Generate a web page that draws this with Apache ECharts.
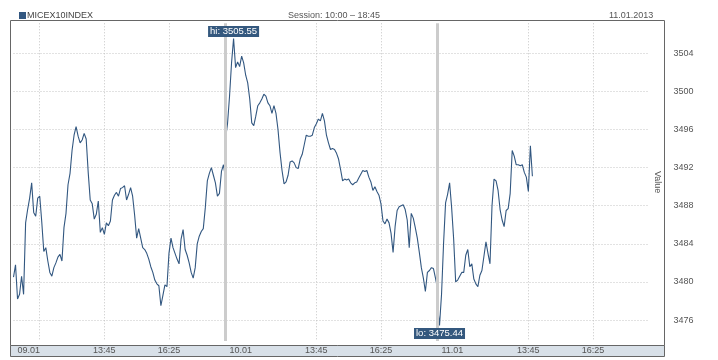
<!DOCTYPE html>
<html><head><meta charset="utf-8">
<script src="https://cdn.jsdelivr.net/npm/echarts/dist/echarts.min.js"></script>
<style>html,body{margin:0;padding:0;background:#fff}#c{width:718px;height:360px}</style>
</head><body><div id="c"></div>
<script>
const seriesName = 'MICEX10INDEX';
const sessionText = 'Session: 10:00 \u2013 18:45';
const dateText = '11.01.2013';
const sessionOpen = '10:00';
const sessionClose = '18:45';
const stepMinutes = 5;
const dayLabels = ['09.01', '10.01', '11.01'];
const timeTickLabels = ['13:45', '16:25'];
const firstDayExtraGrid = ['11:05'];
const yTickValues = [3476, 3480, 3484, 3488, 3492, 3496, 3500, 3504];
const yMin = 3473.8, yMax = 3507.15;

const day1 = [
  3480.5, 3481.8, 3478.2, 3478.7, 3480.6, 3478.7, 3486.2, 3487.6, 3488.8, 3490.4,
  3487.3, 3486.9, 3488.8, 3489.0, 3486.3, 3483.2, 3483.6, 3482.2, 3481.0, 3480.6,
  3481.5, 3482.0, 3482.6, 3482.9, 3482.2, 3485.7, 3487.2, 3490.2, 3491.4, 3493.8,
  3495.4, 3496.3, 3495.3, 3494.6, 3494.9, 3495.6, 3495.0, 3491.5, 3488.6, 3488.2,
  3486.6, 3487.1, 3488.5, 3485.2, 3485.7, 3485.0, 3486.2, 3485.9, 3486.4, 3488.6,
  3489.1, 3489.4, 3489.0, 3489.8, 3489.9, 3490.1, 3488.6, 3489.2, 3489.9, 3489.0,
  3487.0, 3484.6, 3485.6, 3484.6, 3483.6, 3483.4, 3483.0, 3482.4, 3481.6, 3481.0,
  3480.2, 3479.8, 3479.6, 3477.5, 3478.6, 3479.7, 3479.5, 3483.0, 3484.6, 3483.6,
  3483.0, 3482.4, 3481.9, 3484.5, 3485.5, 3483.4, 3482.8, 3482.0, 3481.0, 3480.4,
  3481.5, 3484.0, 3484.8, 3485.3, 3485.6, 3487.8, 3490.6, 3491.4, 3492.0, 3491.2,
  3490.4, 3489.0, 3489.3, 3491.6, 3492.3, 3490.9
];
const day2 = [
  3495.0, 3496.6, 3499.5, 3503.0, 3505.55, 3502.5, 3503.1, 3502.6, 3503.7, 3503.0,
  3501.7, 3500.9, 3499.2, 3496.7, 3496.4, 3497.4, 3498.5, 3498.8, 3499.2, 3499.7,
  3499.5, 3498.8, 3498.5, 3497.7, 3498.5, 3497.7, 3496.0, 3493.6, 3491.7, 3490.3,
  3490.5, 3491.2, 3492.6, 3492.7, 3492.5, 3492.0, 3491.9, 3492.9, 3493.4, 3494.4,
  3495.4, 3495.3, 3495.3, 3495.4, 3496.2, 3496.6, 3497.1, 3496.9, 3497.7, 3496.9,
  3495.4, 3494.6, 3493.9, 3494.0, 3493.9, 3493.5, 3492.9, 3491.8, 3490.6, 3490.8,
  3490.7, 3490.8, 3490.4, 3490.2, 3490.4, 3490.5, 3490.9, 3491.3, 3491.7, 3491.6,
  3491.7, 3491.0, 3490.5, 3489.6, 3490.0, 3489.5, 3489.1, 3488.2, 3486.4, 3486.1,
  3486.6, 3486.2, 3485.1, 3483.1, 3485.8, 3487.5, 3487.9, 3488.0, 3488.1, 3487.6,
  3486.5, 3483.6, 3487.2, 3486.7, 3485.7, 3484.6, 3483.1, 3481.5, 3480.4, 3479.0,
  3481.0, 3481.2, 3481.5, 3481.4, 3480.4, 3479.3
];
const day3 = [
  3477.5, 3475.44, 3478.7, 3484.0, 3488.3, 3489.2, 3490.4, 3487.8, 3484.5, 3480.0,
  3480.2, 3480.6, 3481.0, 3481.0, 3482.8, 3483.4, 3481.6, 3481.9, 3480.3, 3479.8,
  3479.5, 3480.7, 3481.2, 3482.7, 3484.2, 3483.0, 3481.9, 3488.0, 3490.8, 3490.6,
  3489.6, 3487.6, 3486.5, 3485.8, 3487.5, 3487.7, 3489.3, 3493.8, 3493.2, 3492.3,
  3492.3, 3492.2, 3492.3, 3491.5, 3491.0, 3489.5, 3494.3, 3491.1
];

function toMin(s) { const p = s.split(':').map(Number); return p[0] * 60 + p[1]; }
const open = toMin(sessionOpen);
const dayLen = toMin(sessionClose) - open;
const days = [day1, day2, day3];
const data = [];
days.forEach((arr, d) => arr.forEach((v, k) => data.push([d * dayLen + k * stepMinutes, v])));
const timeTickValues = [];
dayLabels.forEach((_, d) => timeTickLabels.forEach(t => timeTickValues.push(d * dayLen + toMin(t) - open)));
const gridValues = firstDayExtraGrid.map(t => toMin(t) - open).concat(timeTickValues);
const dayStartValues = dayLabels.map((_, d) => d * dayLen);
const separators = dayStartValues.slice(1);

const FONT = 'Liberation Sans, Arial, sans-serif';
const LINE = '#325780';
const GRIDC = '#c4c4c4';
const TXT = '#555555';
function fmtTime(v) {
  const t = open + (Math.round(v) % dayLen);
  return String(Math.floor(t / 60)).padStart(2, '0') + ':' + String(t % 60).padStart(2, '0');
}
const labelBox = {
  color: '#fff', backgroundColor: '#34587e', fontFamily: FONT, fontSize: 9.5,
  padding: [1, 2, 0, 2], lineHeight: 10, position: 'inside'
};

const chart = echarts.init(document.getElementById('c'), null, { renderer: 'canvas' });
chart.setOption({
  animation: false,
  backgroundColor: '#fff',
  textStyle: { fontFamily: FONT },
  title: [
    { text: sessionText, left: 283, top: 6, textStyle: { fontSize: 9, fontWeight: 'normal', color: TXT, fontFamily: FONT } },
    { text: dateText, left: 604, top: 6, textStyle: { fontSize: 9, fontWeight: 'normal', color: TXT, fontFamily: FONT } }
  ],
  legend: {
    left: 14, top: 6, icon: 'rect', itemWidth: 7, itemHeight: 7, itemGap: 0,
    selectedMode: false,
    textStyle: { fontSize: 9, color: '#444', fontFamily: FONT, padding: [0, 0, 0, -4] },
    data: [seriesName]
  },
  grid: { left: 13.5, right: 68.5, top: 23.3, bottom: 19, containLabel: false, outerBoundsMode: 'none' },
  xAxis: [
    {
      type: 'value', min: 0, max: dayLen * days.length,
      axisLine: { show: false },
      axisTick: { show: false, customValues: gridValues },
      splitLine: { show: true, lineStyle: { color: GRIDC, type: [1, 2], width: 1 } },
      axisLabel: { customValues: timeTickValues, formatter: fmtTime, fontSize: 9, color: TXT, margin: 5, fontFamily: FONT }
    },
    {
      type: 'value', min: 0, max: dayLen * days.length, position: 'bottom',
      axisLine: { show: false },
      axisTick: { show: false },
      splitLine: { show: false },
      axisLabel: {
        customValues: dayStartValues, formatter: v => dayLabels[Math.round(v / dayLen)],
        align: 'left', padding: [0, 0, 0, 4], fontSize: 9, color: TXT, margin: 5, fontFamily: FONT
      }
    }
  ],
  yAxis: {
    type: 'value', position: 'right', min: yMin, max: yMax,
    axisLine: { show: false },
    axisTick: { show: false, customValues: yTickValues },
    axisLabel: { customValues: yTickValues, formatter: v => String(v), margin: 24, fontSize: 9, color: TXT, fontFamily: FONT },
    splitLine: { show: true, lineStyle: { color: GRIDC, type: [1, 2], width: 1 } },
    name: 'Value', nameLocation: 'middle', nameRotate: -90, nameGap: 3, nameMoveOverlap: false,
    nameTextStyle: { fontSize: 9, color: TXT, fontFamily: FONT }
  },
  graphic: [
    { type: 'rect', z: -1, silent: true, shape: { x: 10.5, y: 20.5, width: 654, height: 325 }, style: { fill: 'none', stroke: '#666', lineWidth: 1 } },
    { type: 'rect', z: -1, silent: true, shape: { x: 10.5, y: 345.5, width: 654, height: 11 }, style: { fill: '#d8e0e8', stroke: '#666', lineWidth: 1 } }
  ],
  series: [{
    type: 'line', name: seriesName, data: data,
    symbol: 'none', showSymbol: false,
    lineStyle: { width: 1.1, color: LINE },
    itemStyle: { color: LINE },
    emphasis: { disabled: true },
    markLine: {
      silent: true, symbol: 'none', animation: false,
      label: { show: false },
      lineStyle: { color: '#cccccc', width: 3, type: 'solid' },
      emphasis: { disabled: true },
      data: separators.map(x => ({ xAxis: x }))
    },
    markPoint: {
      silent: true, symbol: 'circle', symbolSize: 1, animation: false,
      itemStyle: { color: 'rgba(0,0,0,0)' },
      data: [
        { type: 'max', label: Object.assign({}, labelBox, { offset: [0, -7], formatter: p => 'hi: ' + Number(p.value).toFixed(2) }) },
        { type: 'min', label: Object.assign({}, labelBox, { offset: [0, 8], formatter: p => 'lo: ' + Number(p.value).toFixed(2) }) }
      ]
    }
  }]
});
</script></body></html>
